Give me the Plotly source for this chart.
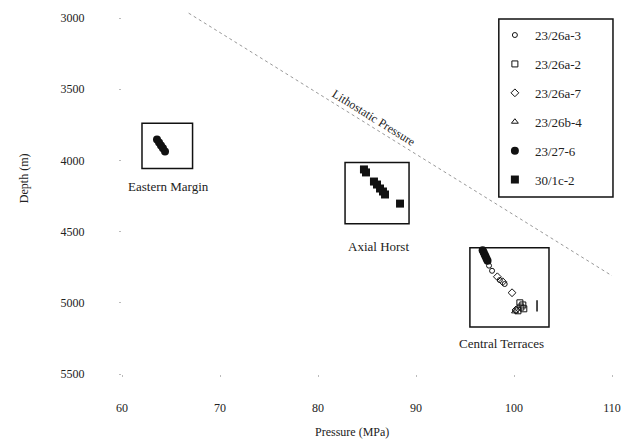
import plotly.graph_objects as go

# ---- data ----
well_a3_p = [97.45, 97.76, 98.55, 99.05]
well_a3_d = [4739, 4775, 4840, 4868]

well_a2_p = [100.6, 100.9, 101.0, 100.4, 100.7]
well_a2_d = [5000, 5015, 5042, 5056, 5030]

well_a7_p = [98.3, 98.85, 99.8, 100.2]
well_a7_d = [4817, 4852, 4929, 5050]

well_b4_p = [100.1]
well_b4_d = [5060]

well_27_6_p = [63.57, 63.78, 63.98, 64.18, 64.39, 96.8, 96.9, 97.0, 97.1, 97.2, 97.3]
well_27_6_d = [3852, 3873, 3894, 3915, 3937, 4630, 4645, 4660, 4675, 4690, 4705]

well_1c2_p = [84.69, 84.9, 85.71, 86.02, 86.33, 86.63, 86.84, 88.37]
well_1c2_d = [4063, 4084, 4148, 4169, 4197, 4218, 4239, 4303]

errbar_p = [102.35]
errbar_d = [5021]

litho_p = [66.8, 110.0]
litho_d = [2965, 4810]

regions = ["Eastern Margin", "Axial Horst", "Central Terraces"]
region_p0 = [62.04, 82.76, 95.5]
region_p1 = [67.2, 89.29, 103.57]
region_d0 = [3739, 4014, 4613]
region_d1 = [4056, 4444, 5169]
label_p = [64.7, 86.2, 98.7]
label_d = [4185, 4605, 5285]

x_ticks = [60, 70, 80, 90, 100, 110]
y_ticks = [3000, 3500, 4000, 4500, 5000, 5500]

FONT = "Liberation Serif"
TXT = "#222222"

fig = go.Figure()

fig.add_trace(go.Scatter(
    x=litho_p, y=litho_d, mode="lines",
    line=dict(color="#999999", width=1, dash="dot"),
    showlegend=False, hoverinfo="skip"))

series = [
    ("23/26a-3", well_a3_p, well_a3_d, "circle-open", 5, 1),
    ("23/26a-2", well_a2_p, well_a2_d, "square-open", 6, 1),
    ("23/26a-7", well_a7_p, well_a7_d, "diamond-open", 6, 1),
    ("23/26b-4", well_b4_p, well_b4_d, "triangle-up-open", 6, 1),
    ("23/27-6", well_27_6_p, well_27_6_d, "circle", 8, 0),
    ("30/1c-2", well_1c2_p, well_1c2_d, "square", 8, 0),
]
for i, (name, px, py, sym, sz, lw) in enumerate(series):
    fig.add_trace(go.Scatter(
        x=px, y=py, mode="markers", name=name, legendgroup=f"g{i}",
        marker=dict(symbol=sym, size=sz, color="#111111",
                    line=dict(color="#111111", width=lw if lw else 0))))

fig.add_trace(go.Scatter(
    x=errbar_p, y=errbar_d, mode="markers",
    marker=dict(symbol="line-ns-open", size=8, color="#111111", line=dict(width=1.5)),
    showlegend=False))

for i, r in enumerate(regions):
    fig.add_shape(type="rect", x0=region_p0[i], x1=region_p1[i],
                  y0=region_d0[i], y1=region_d1[i],
                  line=dict(color="#111111", width=1.5), layer="below")
    fig.add_annotation(x=label_p[i], y=label_d[i], text=r, showarrow=False,
                       font=dict(family=FONT, size=13, color=TXT))

fig.add_annotation(x=85.71, y=3704, text="Lithostatic Pressure", showarrow=False,
                   textangle=32, font=dict(family=FONT, size=12, color=TXT))

# legend frame
fig.add_shape(type="rect", xref="paper", yref="paper",
              x0=0.769, x1=1.002, y0=0.4876, y1=0.978,
              line=dict(color="#111111", width=1.5))

fig.add_annotation(xref="paper", yref="paper", x=-0.218, y=0.54,
                   text="Depth (m)", textangle=-90, showarrow=False,
                   font=dict(family=FONT, size=12, color=TXT))
fig.add_annotation(xref="paper", yref="paper", x=0.47, y=-0.16,
                   text="Pressure (MPa)", showarrow=False, yanchor="middle",
                   font=dict(family=FONT, size=12, color=TXT))

# page body has an 8px default margin, so the figure is sized to fit inside
fig.update_layout(
    width=624, height=432,
    margin=dict(l=114, r=20, t=3, b=66),
    paper_bgcolor="white", plot_bgcolor="white",
    font=dict(family=FONT, size=12, color=TXT),
    legend=dict(x=0.761, y=0.975, xanchor="left", yanchor="top",
                bgcolor="rgba(0,0,0,0)", tracegroupgap=9,
                font=dict(family=FONT, size=13, color=TXT)),
    xaxis=dict(range=[60, 110], tickvals=x_ticks, showgrid=False, zeroline=False,
               showline=False, ticks="outside", ticklen=2, tickcolor="#bbbbbb",
               ticklabelstandoff=21),
    yaxis=dict(range=[5500, 2950], tickvals=y_ticks, showgrid=False, zeroline=False,
               showline=False, ticks="outside", ticklen=2, tickcolor="#bbbbbb",
               ticklabelstandoff=32),
)

fig.write_html("out.html")
